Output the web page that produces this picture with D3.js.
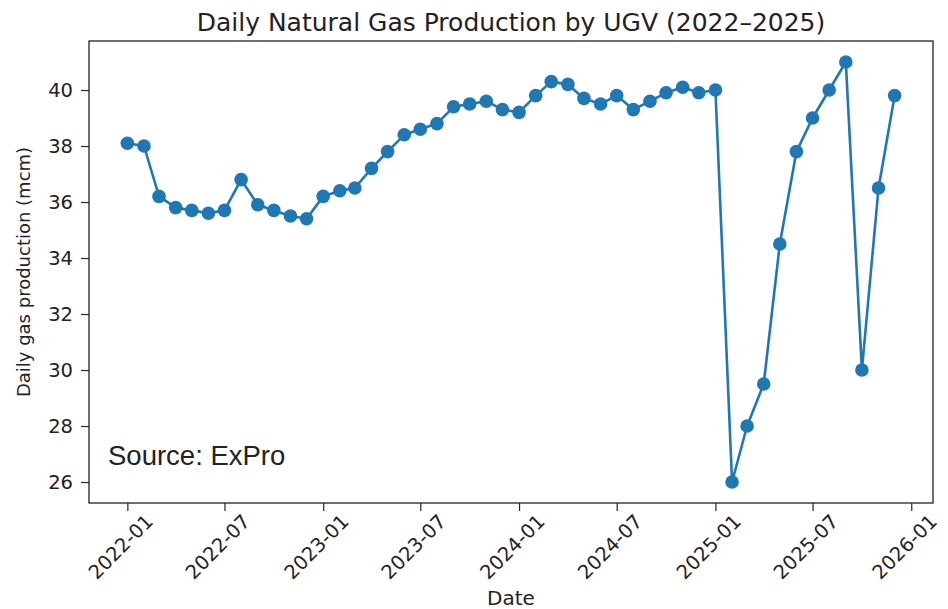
<!DOCTYPE html>
<html>
<head>
<meta charset="utf-8">
<script src="https://cdn.jsdelivr.net/npm/d3@7"></script>
<style>
    body { margin: 0; background: #fff; }
    svg { display: block; }
    text { font-family: "DejaVu Sans", sans-serif; fill: #222; }
</style>
</head>
<body>
<div class="chart"></div>
<script>
// Monthly values, 2022-01 .. 2025-12
const months = [
    '2022-01', '2022-02', '2022-03', '2022-04', '2022-05', '2022-06',
    '2022-07', '2022-08', '2022-09', '2022-10', '2022-11', '2022-12',
    '2023-01', '2023-02', '2023-03', '2023-04', '2023-05', '2023-06',
    '2023-07', '2023-08', '2023-09', '2023-10', '2023-11', '2023-12',
    '2024-01', '2024-02', '2024-03', '2024-04', '2024-05', '2024-06',
    '2024-07', '2024-08', '2024-09', '2024-10', '2024-11', '2024-12',
    '2025-01', '2025-02', '2025-03', '2025-04', '2025-05', '2025-06',
    '2025-07', '2025-08', '2025-09', '2025-10', '2025-11', '2025-12'
]
const production = [
    38.1, 38.0, 36.2, 35.8, 35.7, 35.6,
    35.7, 36.8, 35.9, 35.7, 35.5, 35.4,
    36.2, 36.4, 36.5, 37.2, 37.8, 38.4,
    38.6, 38.8, 39.4, 39.5, 39.6, 39.3,
    39.2, 39.8, 40.3, 40.2, 39.7, 39.5,
    39.8, 39.3, 39.6, 39.9, 40.1, 39.9,
    40.0, 26.0, 28.0, 29.5, 34.5, 37.8,
    39.0, 40.0, 41.0, 30.0, 36.5, 39.8
]
const yTicks = [26, 28, 30, 32, 34, 36, 38, 40]
const xTicks = ['2022-01', '2022-07', '2023-01', '2023-07', '2024-01',
    '2024-07', '2025-01', '2025-07', '2026-01']

const title = 'Daily Natural Gas Production by UGV (2022\u20132025)'
const xLabel = 'Date'
const yLabel = 'Daily gas production (mcm)'
const note = 'Source: ExPro'

const width = 948
const height = 609
const margin = { top: 41, right: 15, bottom: 106, left: 89 }

const parse = d3.timeParse('%Y-%m')
const data = months.map((m, i) => ({ date: parse(m), value: production[i] }))

const svg = d3.select('.chart')
    .append('svg')
    .attr('width', width)
    .attr('height', height)

// matplotlib style 5% margins
const xExt = d3.extent(data, d => d.date)
const xPad = (xExt[1] - xExt[0]) * 0.05
const yExt = d3.extent(data, d => d.value)
const yPad = (yExt[1] - yExt[0]) * 0.05

const x = d3.scaleTime()
    .domain([new Date(+xExt[0] - xPad), new Date(+xExt[1] + xPad)])
    .range([margin.left, width - margin.right])

const y = d3.scaleLinear()
    .domain([yExt[0] - yPad, yExt[1] + yPad])
    .range([height - margin.bottom, margin.top])

// axes
const yAxis = svg.append('g')
    .attr('transform', `translate(${margin.left},0)`)
    .call(d3.axisLeft(y).tickValues(yTicks).tickSize(8).tickPadding(8).tickFormat(d3.format('d')))
yAxis.select('.domain').remove()
yAxis.selectAll('.tick line').attr('stroke', '#222').attr('stroke-width', 1.2)
yAxis.selectAll('.tick text')
    .style('font-family', '"DejaVu Sans", sans-serif')
    .style('font-size', '19.5px')
    .attr('fill', '#222')

const xAxis = svg.append('g')
    .attr('transform', `translate(0,${height - margin.bottom})`)
    .call(d3.axisBottom(x).tickValues(xTicks.map(parse)).tickSize(8).tickFormat(d3.timeFormat('%Y-%m')))
xAxis.select('.domain').remove()
xAxis.selectAll('.tick line').attr('stroke', '#222').attr('stroke-width', 1.2)
xAxis.selectAll('.tick text')
    .style('font-family', '"DejaVu Sans", sans-serif')
    .style('font-size', '19.5px')
    .attr('fill', '#222')
    .attr('text-anchor', 'middle')
    .attr('dy', null)
    .attr('dominant-baseline', 'central')
    .attr('y', 0)
    .attr('transform', 'translate(-7,44) rotate(-45)')

// frame
svg.append('rect')
    .attr('x', margin.left)
    .attr('y', margin.top)
    .attr('width', width - margin.left - margin.right)
    .attr('height', height - margin.top - margin.bottom)
    .attr('fill', 'none')
    .attr('stroke', '#222')
    .attr('stroke-width', 1.3)

// line + markers
const line = d3.line()
    .x(d => x(d.date))
    .y(d => y(d.value))

svg.append('path')
    .datum(data)
    .attr('d', line)
    .attr('fill', 'none')
    .attr('stroke', '#1f77b4')
    .attr('stroke-width', 2.6)
    .attr('stroke-linejoin', 'round')

svg.append('g')
    .selectAll('circle')
    .data(data)
    .enter()
    .append('circle')
    .attr('cx', d => x(d.date))
    .attr('cy', d => y(d.value))
    .attr('r', 6.8)
    .attr('fill', '#1f77b4')

// texts
svg.append('text')
    .attr('x', (margin.left + width - margin.right) / 2)
    .attr('y', 31)
    .attr('text-anchor', 'middle')
    .style('font-size', '25px')
    .text(title)

svg.append('text')
    .attr('x', (margin.left + width - margin.right) / 2)
    .attr('y', 605)
    .attr('text-anchor', 'middle')
    .style('font-size', '20px')
    .text(xLabel)

svg.append('text')
    .attr('transform', `translate(30,${(margin.top + height - margin.bottom) / 2}) rotate(-90)`)
    .attr('text-anchor', 'middle')
    .style('font-size', '18px')
    .text(yLabel)

svg.append('text')
    .attr('x', 108)
    .attr('y', 465)
    .style('font-family', '"Liberation Sans", Arial, sans-serif')
    .style('font-size', '27.5px')
    .attr('fill', '#000')
    .text(note)
</script>
</body>
</html>
